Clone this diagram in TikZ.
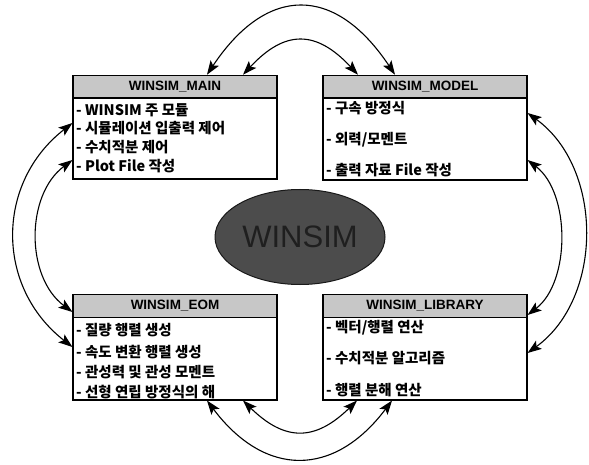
\documentclass[tikz,border=0pt]{standalone}
\usepackage{fontspec}
\setmainfont{Liberation Sans}
\newfontfamily\kr{Noto Sans CJK KR}
\usetikzlibrary{arrows.meta,calc,shapes.geometric}
\begin{document}
\begin{tikzpicture}[x=1pt,y=-1pt,
  >={Stealth[length=14pt,width=10pt,inset=3pt]},
  titlebox/.style={draw=black,line width=1.1pt,fill=black!22,minimum width=204pt,minimum height=22.5pt,inner sep=0pt,font=\bfseries\fontsize{13.5}{14}\selectfont},
  bodybox/.style={draw=black,line width=1.1pt,fill=white,minimum width=204pt,inner sep=0pt},
  item/.style={anchor=west,inner sep=0pt,font=\kr\bfseries\fontsize{14.5}{16}\selectfont},
  link/.style={line width=1.1pt,<->}
]
\useasboundingbox (0,0) rectangle (589,465);

% boxes
\node[bodybox,minimum height=81pt] (mainB) at (175,138.5) {};
\node[titlebox] (mainT) at (175,86.5) {WINSIM\_MAIN};
\node[bodybox,minimum height=82pt] (modelB) at (425,139) {};
\node[titlebox] (modelT) at (425,86.5) {WINSIM\_MODEL};
\node[bodybox,minimum height=83pt] (eomB) at (175,358.5) {};
\node[titlebox] (eomT) at (175,306) {WINSIM\_EOM};
\node[bodybox,minimum height=83pt] (libB) at (425,358.5) {};
\node[titlebox] (libT) at (425,306) {WINSIM\_LIBRARY};

% items
\node[item] (m1) at (76,110) {- WINSIM 주 모듈};
\node[item] (m2) at (76,128) {- 시뮬레이션 입출력 제어};
\node[item] (m3) at (76,147) {- 수치적분 제어};
\node[item] (m4) at (76,166) {- Plot File 작성};

\node[item] (d1) at (326,108) {- 구속 방정식};
\node[item] (d2) at (326,140) {- 외력/모멘트};
\node[item] (d3) at (326,170) {- 출력 자료 File 작성};

\node[item] (e1) at (76,330) {- 질량 행렬 생성};
\node[item] (e2) at (76,352) {- 속도 변환 행렬 생성};
\node[item] (e3) at (76,372) {- 관성력 및 관성 모멘트};
\node[item] (e4) at (76,392) {- 선형 연립 방정식의 해};

\node[item] (l1) at (326,328) {- 벡터/행렬 연산};
\node[item] (l2) at (326,358) {- 수치적분 알고리즘};
\node[item] (l3) at (326,390) {- 행렬 분해 연산};

% center ellipse
\node[ellipse,draw=black!90,line width=1pt,fill=black!70,minimum width=170pt,minimum height=95pt,inner sep=0pt,
      text=black!88,font=\fontsize{31}{32}\selectfont] (core) at (300,237) {WINSIM};

% connectors
\draw[link] ($(mainT.north)+(32,0)$) .. controls +(60,-90) and +(-60,-90) .. ($(modelT.north)+(-30,0)$);
\draw[link] ($(mainT.north)+(68,0)$) .. controls +(42,-45) and +(-42,-45) .. ($(modelT.north)+(-67,0)$);

\draw[link] ($(mainB.west)+(0,-15.5)$) .. controls +(-77,60) and +(-77,-60) .. ($(eomB.west)+(0,-11.5)$);
\draw[link] ($(mainB.west)+(0,21.5)$) .. controls +(-47,35) and +(-47,-35) .. ($(eomT.west)+(0,6)$);

\draw[link] ($(modelB.east)+(0,-26)$) .. controls +(76,55) and +(76,-55) .. ($(libB.east)+(0,-5.5)$);
\draw[link] ($(modelB.east)+(0,21)$) .. controls +(43,33) and +(43,-33) .. ($(libT.east)+(0,9)$);

\draw[link] ($(eomB.south)+(32,0)$) .. controls +(58,77) and +(-58,77) .. ($(libB.south)+(-33,0)$);
\draw[link] ($(eomB.south)+(68,0)$) .. controls +(42,41) and +(-42,41) .. ($(libB.south)+(-68,0)$);
\end{tikzpicture}
\end{document}
